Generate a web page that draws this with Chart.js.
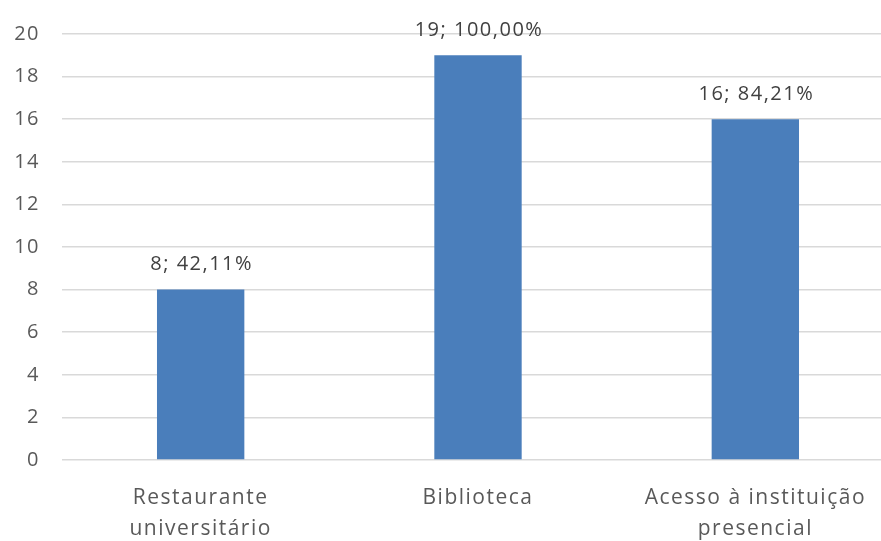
<!DOCTYPE html>
<html>
<head>
<meta charset="utf-8">
<script src="https://cdn.jsdelivr.net/npm/chart.js@4/dist/chart.umd.min.js"></script>
<style>
  html, body { margin: 0; padding: 0; background: #ffffff; overflow: hidden; }
  #wrap { position: relative; width: 894px; height: 541px; }
</style>
</head>
<body>
<div id="wrap"><canvas id="chart"></canvas></div>
<script>
// Categories (multi-line labels) and their counts / shares
const categories = [
  ["Restaurante", "universitário"],
  ["Biblioteca"],
  ["Acesso à instituição", "presencial"]
];
const counts = [8, 19, 16];
const shares = [42.11, 100.00, 84.21];

const textFont = "'Open Sans', 'DejaVu Sans', sans-serif";

// Slightly spaced lettering for all axis text
const spacedText = {
  id: 'spacedText',
  beforeDraw(chart) { chart.ctx.letterSpacing = '1.5px'; }
};

// Writes "count; share%" above each bar, using Portuguese decimal comma
const valueLabels = {
  id: 'valueLabels',
  afterDatasetsDraw(chart) {
    const ctx = chart.ctx;
    const meta = chart.getDatasetMeta(0);
    ctx.save();
    ctx.letterSpacing = '1.5px';
    ctx.font = "20px " + textFont;
    ctx.fillStyle = '#404040';
    ctx.textAlign = 'center';
    ctx.textBaseline = 'middle';
    meta.data.forEach((bar, i) => {
      const txt = counts[i] + '; ' + shares[i].toFixed(2).replace('.', ',') + '%';
      ctx.fillText(txt, bar.x + 1, bar.y - 25);
    });
    ctx.restore();
  }
};

new Chart(document.getElementById('chart'), {
  type: 'bar',
  data: {
    labels: categories,
    datasets: [{
      data: counts,
      backgroundColor: '#4a7ebb',
      borderWidth: 0,
      categoryPercentage: 1.0,
      barPercentage: 0.315
    }]
  },
  options: {
    responsive: true,
    maintainAspectRatio: false,
    animation: false,
    layout: { padding: { top: 22, right: 0, bottom: 0, left: 0 } },
    plugins: {
      legend: { display: false },
      tooltip: { enabled: false }
    },
    scales: {
      x: {
        grid: { display: false },
        border: { display: false },
        ticks: {
          color: '#595959',
          font: { family: textFont, size: 21, lineHeight: 1.45 },
          padding: 15,
          maxRotation: 0,
          autoSkip: false
        },
        afterFit(scale) { scale.height = 81; }
      },
      y: {
        min: 0,
        max: 20,
        grid: { color: '#d9d9d9', lineWidth: 1.5, drawTicks: false },
        border: { display: false },
        ticks: {
          stepSize: 2,
          color: '#595959',
          font: { family: textFont, size: 20 },
          padding: 22
        },
        afterFit(scale) { scale.width = 62; }
      }
    }
  },
  plugins: [spacedText, valueLabels]
});
</script>
</body>
</html>
